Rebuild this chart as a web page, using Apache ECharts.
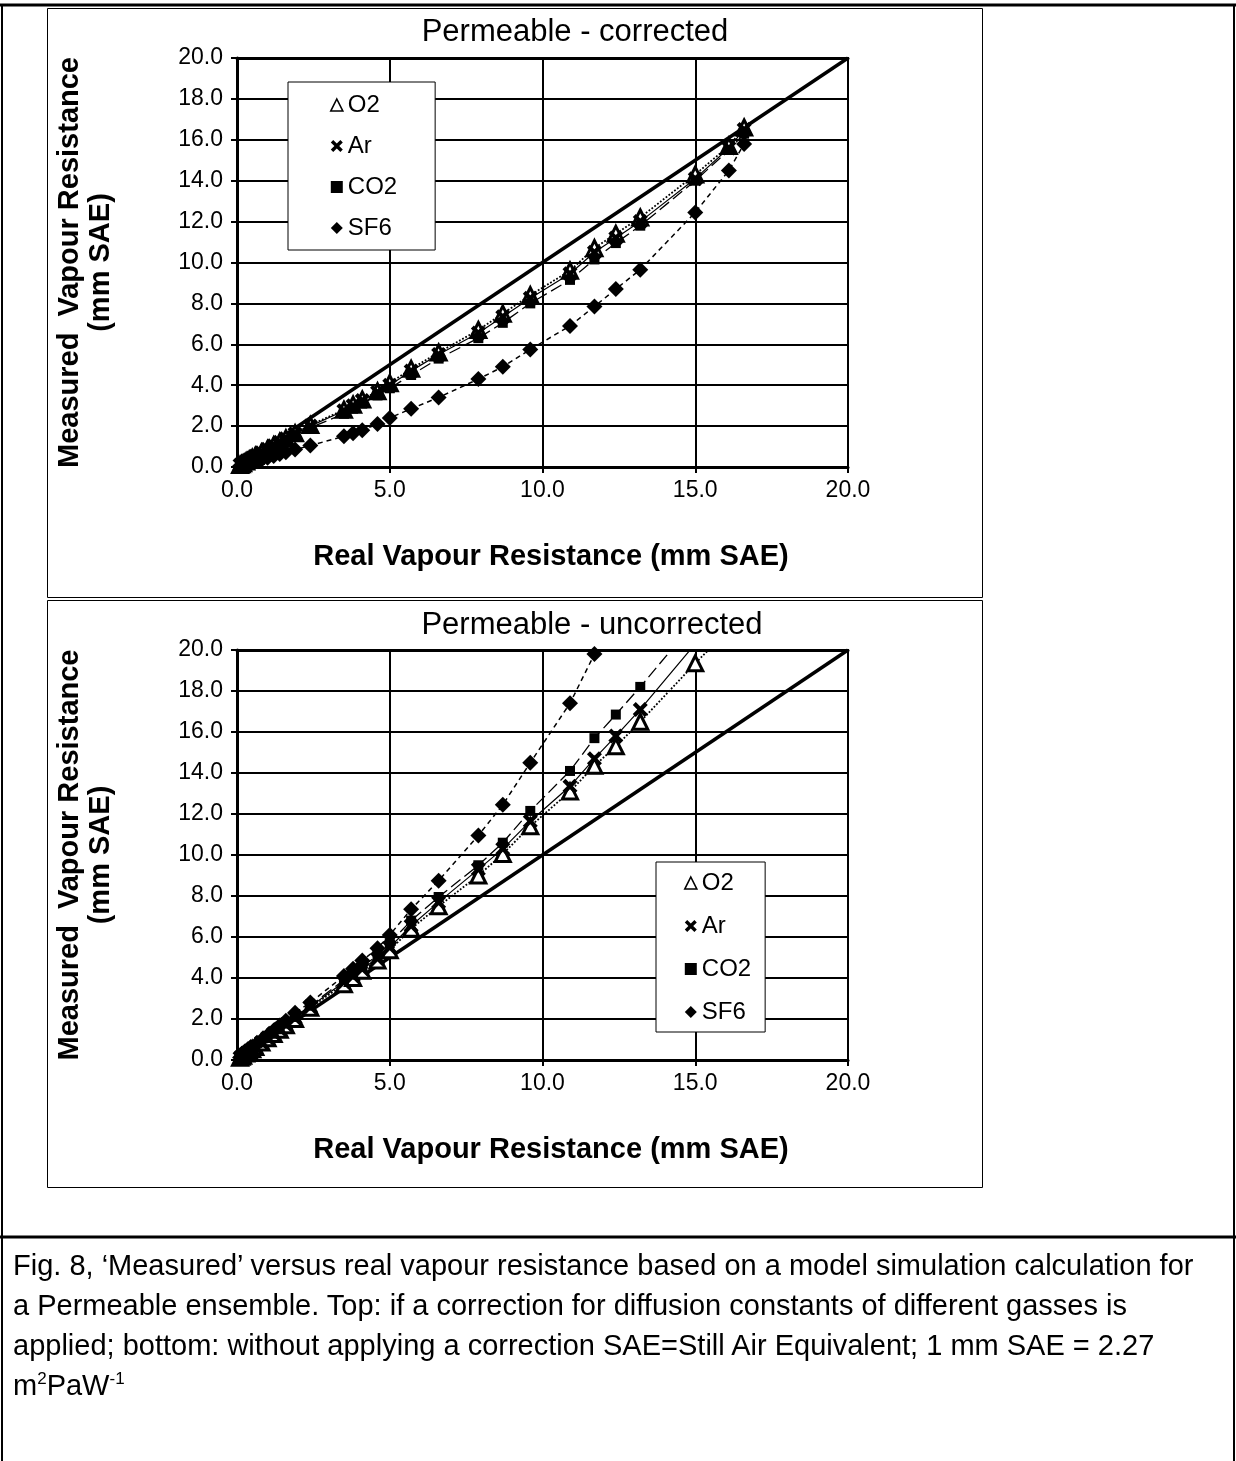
<!DOCTYPE html>
<html>
<head>
<meta charset="utf-8">
<script src="https://cdn.jsdelivr.net/npm/echarts@6/dist/echarts.min.js"></script>
<style>
  html, body { margin: 0; padding: 0; background: #fff; }
  #chart { position: absolute; left: 0; top: 0; width: 1236px; height: 1461px; }
  #caption { position: absolute; left: 13px; top: 1245px; font-family: "Liberation Sans", Arial, sans-serif;
    font-size: 29px; line-height: 40px; color: #000; white-space: nowrap; }
  #caption sup { font-size: 17px; line-height: 0; vertical-align: 11px; }
</style>
</head>
<body>
<div id="chart"></div>
<div id="caption">Fig. 8, ‘Measured’ versus real vapour resistance based on a model simulation calculation for<br>a Permeable ensemble. Top: if a correction for diffusion constants of different gasses is<br>applied; bottom: without applying a correction SAE=Still Air Equivalent; 1 mm SAE = 2.27<br>m<sup>2</sup>PaW<sup>-1</sup></div>
<script>
// ---- data ----
const realX = [0.1, 0.15, 0.2, 0.3, 0.4, 0.5, 0.6, 0.8, 1.0, 1.2, 1.4, 1.6, 1.9, 2.4, 3.5, 3.8, 4.1, 4.6, 5.0, 5.7, 6.6, 7.9, 8.7, 9.6, 10.9, 11.7, 12.4, 13.2, 15.0, 16.1, 16.6];

// corrected (top)
const topO2  = [0.1, 0.14, 0.18, 0.27, 0.36, 0.45, 0.54, 0.71, 0.88, 1.06, 1.23, 1.4, 1.65, 2.05, 2.8, 3.05, 3.3, 3.7, 4.1, 4.8, 5.6, 6.7, 7.5, 8.4, 9.6, 10.7, 11.4, 12.2, 14.3, 15.7, 16.6];
const topAr  = [0.1, 0.14, 0.18, 0.27, 0.35, 0.44, 0.53, 0.7, 0.87, 1.04, 1.21, 1.38, 1.62, 2.0, 2.75, 3.0, 3.25, 3.65, 4.0, 4.7, 5.5, 6.55, 7.35, 8.25, 9.45, 10.5, 11.2, 12.0, 14.1, 15.6, 16.5];
const topCO2 = [0.09, 0.13, 0.17, 0.26, 0.34, 0.42, 0.5, 0.67, 0.83, 1.0, 1.16, 1.32, 1.56, 1.92, 2.6, 2.85, 3.1, 3.5, 3.85, 4.5, 5.3, 6.3, 7.05, 8.0, 9.15, 10.15, 10.95, 11.8, 14.0, 15.5, 16.3];
const topSF6 = [0.05, 0.07, 0.09, 0.13, 0.18, 0.22, 0.27, 0.36, 0.45, 0.54, 0.63, 0.72, 0.85, 1.05, 1.5, 1.65, 1.8, 2.1, 2.4, 2.85, 3.4, 4.3, 4.9, 5.75, 6.9, 7.85, 8.7, 9.65, 12.45, 14.5, 15.8];

// uncorrected (bottom)
const botO2  = [0.11, 0.16, 0.21, 0.32, 0.43, 0.53, 0.64, 0.85, 1.06, 1.27, 1.48, 1.69, 2.0, 2.55, 3.7, 4.0, 4.35, 4.85, 5.35, 6.4, 7.5, 9.0, 10.05, 11.4, 13.1, 14.35, 15.3, 16.5, 19.35, 21.0, 21.8];
const botAr  = [0.11, 0.17, 0.22, 0.33, 0.44, 0.55, 0.66, 0.87, 1.08, 1.3, 1.51, 1.73, 2.05, 2.6, 3.8, 4.1, 4.45, 4.95, 5.5, 6.55, 7.7, 9.3, 10.3, 11.65, 13.35, 14.7, 15.8, 17.1, 20.3, 22.0, 22.9];
const botCO2 = [0.11, 0.17, 0.22, 0.34, 0.45, 0.56, 0.68, 0.9, 1.12, 1.34, 1.56, 1.78, 2.1, 2.65, 3.9, 4.2, 4.55, 5.1, 5.7, 6.8, 7.95, 9.5, 10.6, 12.15, 14.1, 15.7, 16.85, 18.2, 21.4, 23.5, 24.5];
const botSF6 = [0.12, 0.18, 0.24, 0.36, 0.48, 0.6, 0.72, 0.96, 1.2, 1.44, 1.68, 1.92, 2.3, 2.8, 4.1, 4.45, 4.85, 5.45, 6.1, 7.35, 8.75, 10.95, 12.45, 14.5, 17.4, 19.8, 22.0, 24.0, 29.0, 32.0, 33.5];

const identityLine = [[0, 0], [20, 20]];
const seriesNames = ['O2', 'Ar', 'CO2', 'SF6'];
const chartTitles = ['Permeable - corrected', 'Permeable - uncorrected'];
const xAxisTitle = 'Real Vapour Resistance (mm SAE)';
const yAxisTitle = 'Measured  Vapour Resistance\n(mm SAE)';

// ---- chart ----
const FONT = '"Liberation Sans", Arial, sans-serif';
const X_PATH = 'path://M0,2L2,0L5,3L8,0L10,2L7,5L10,8L8,10L5,7L2,10L0,8L3,5Z';
const pairs = ys => realX.map((x, i) => [x, ys[i]]);

const gridDefs = [
  { left: 237, top: 58, width: 611, height: 409 },
  { left: 237, top: 650, width: 611, height: 410 }
];
const dataSets = [
  [topO2, topAr, topCO2, topSF6],
  [botO2, botAr, botCO2, botSF6]
];

const styles = [
  { symbol: 'triangle', symbolSize: 15, itemStyle: { color: '#fff', borderColor: '#000', borderWidth: 3 }, lineStyle: { color: '#000', width: 1.8, type: 'dotted' } },
  { symbol: X_PATH, symbolSize: 15, itemStyle: { color: '#000' }, lineStyle: { color: '#000', width: 1.2, type: 'solid' } },
  { symbol: 'rect', symbolSize: 10, itemStyle: { color: '#000' }, lineStyle: { color: '#000', width: 1.3, type: [12, 5] } },
  { symbol: 'diamond', symbolSize: 16, itemStyle: { color: '#000' }, lineStyle: { color: '#000', width: 1.5, type: [5, 4] } }
];

const xAxes = [], yAxes = [], series = [];
gridDefs.forEach((g, gi) => {
  xAxes.push({
    type: 'value', gridIndex: gi, min: 0, max: 20, interval: 5,
    name: xAxisTitle, nameLocation: 'middle', nameGap: 75,
    nameTextStyle: { fontFamily: FONT, fontWeight: 'bold', fontSize: 29, color: '#000', padding: [0, 0, 0, 17] },
    axisLine: { show: true, onZero: false, lineStyle: { color: '#000', width: 3 } },
    axisTick: { show: true, length: 6, lineStyle: { color: '#000', width: 2 } },
    splitLine: { show: true, lineStyle: { color: '#000', width: 2 } },
    axisLabel: { formatter: v => v.toFixed(1), fontFamily: FONT, fontSize: 23, color: '#000', margin: 12 }
  });
  // top border as a bare axis
  xAxes.push({
    type: 'value', gridIndex: gi, min: 0, max: 20, interval: 5, position: 'top',
    axisLine: { show: true, onZero: false, lineStyle: { color: '#000', width: 3 } },
    axisTick: { show: false }, axisLabel: { show: false }, splitLine: { show: false }
  });
  yAxes.push({
    type: 'value', gridIndex: gi, min: 0, max: 20, interval: 2,
    name: yAxisTitle, nameLocation: 'middle', nameGap: 121, nameRotate: 90,
    nameTextStyle: { fontFamily: FONT, fontWeight: 'bold', fontSize: 29, color: '#000', lineHeight: 31 },
    axisLine: { show: true, onZero: false, lineStyle: { color: '#000', width: 3 } },
    axisTick: { show: true, length: 6, lineStyle: { color: '#000', width: 2 } },
    splitLine: { show: true, lineStyle: { color: '#000', width: 2 } },
    axisLabel: { formatter: v => v.toFixed(1), fontFamily: FONT, fontSize: 23, color: '#000', margin: 14 }
  });
  series.push({
    name: '1:1', type: 'line', xAxisIndex: gi * 2, yAxisIndex: gi, data: identityLine,
    showSymbol: false, symbol: 'none', lineStyle: { color: '#000', width: 3.5 }, z: 1, silent: true
  });
  seriesNames.forEach((nm, si) => {
    series.push(Object.assign({
      name: nm, type: 'line', xAxisIndex: gi * 2, yAxisIndex: gi, data: pairs(dataSets[gi][si]),
      showSymbol: true, clip: true, z: 2 + si
    }, JSON.parse(JSON.stringify(styles[si])), si === 1 ? { symbol: X_PATH } : {}));
  });
});

function legendDef(left, top, gap, pad) {
  return {
    orient: 'vertical', left: left, top: top, itemWidth: 12, itemHeight: 12, itemGap: gap,
    padding: pad, borderColor: '#000', borderWidth: 1, backgroundColor: '#fff', borderRadius: 0,
    selectedMode: false, z: 10,
    textStyle: { fontFamily: FONT, fontSize: 24, color: '#000' },
    data: [
      { name: 'O2', icon: 'triangle', itemStyle: { color: '#fff', borderColor: '#000', borderWidth: 1.6 } },
      { name: 'Ar', icon: X_PATH, itemStyle: { color: '#000', borderWidth: 0 } },
      { name: 'CO2', icon: 'rect', itemStyle: { color: '#000', borderWidth: 0 } },
      { name: 'SF6', icon: 'diamond', itemStyle: { color: '#000', borderWidth: 0 } }
    ]
  };
}

const graphic = [
  // outer table lines
  { type: 'line', shape: { x1: 0, y1: 5, x2: 1236, y2: 5 }, style: { stroke: '#000', lineWidth: 3 } },
  { type: 'line', shape: { x1: 2, y1: 5, x2: 2, y2: 1461 }, style: { stroke: '#000', lineWidth: 2 } },
  { type: 'line', shape: { x1: 1234, y1: 5, x2: 1234, y2: 1461 }, style: { stroke: '#000', lineWidth: 2 } },
  { type: 'line', shape: { x1: 0, y1: 1237, x2: 1236, y2: 1237 }, style: { stroke: '#000', lineWidth: 3 } },
  // chart frames
  { type: 'rect', shape: { x: 47.5, y: 8.5, width: 935, height: 589 }, style: { fill: 'none', stroke: '#000', lineWidth: 1 } },
  { type: 'rect', shape: { x: 47.5, y: 600.5, width: 935, height: 587 }, style: { fill: 'none', stroke: '#000', lineWidth: 1 } },
  // titles
  { type: 'text', x: 575, y: 32, style: { text: chartTitles[0], fontFamily: FONT, fontSize: 31, fill: '#000', align: 'center', verticalAlign: 'middle' } },
  { type: 'text', x: 592, y: 625, style: { text: chartTitles[1], fontFamily: FONT, fontSize: 31, fill: '#000', align: 'center', verticalAlign: 'middle' } }
];

const chart = echarts.init(document.getElementById('chart'), null, { renderer: 'canvas' });
chart.setOption({
  animation: false,
  backgroundColor: '#fff',
  grid: gridDefs.map(g => Object.assign({ show: true, borderColor: '#000', borderWidth: 2, backgroundColor: 'transparent', containLabel: false }, g)),
  xAxis: xAxes,
  yAxis: yAxes,
  legend: [legendDef(288, 82, 17, [11, 38, 10, 42]), legendDef(656, 862, 19, [9, 14, 8, 28])],
  graphic: graphic,
  series: series
});
</script>
</body>
</html>
